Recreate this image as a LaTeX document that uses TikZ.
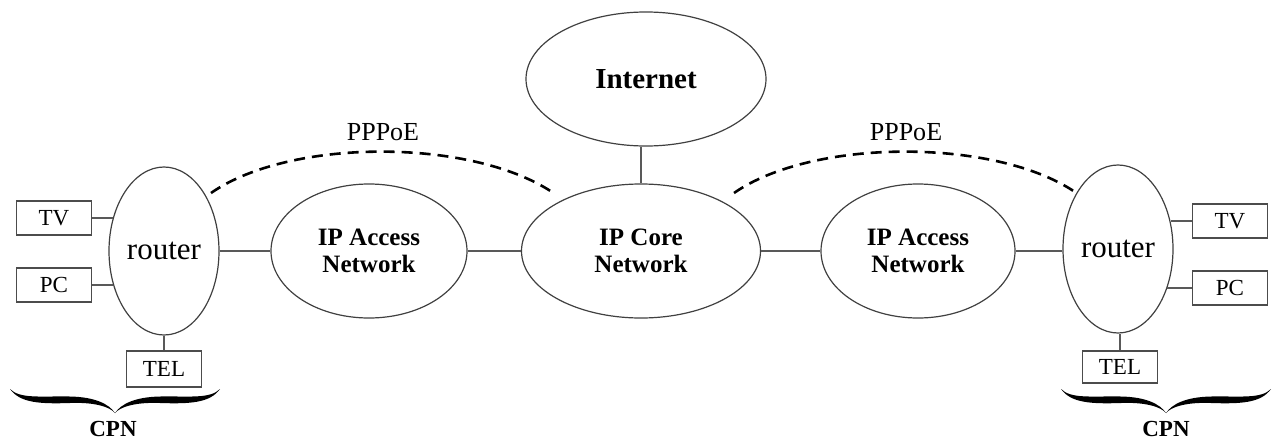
\documentclass[tikz,border=0pt]{standalone}
\usepackage{fontspec}
\setmainfont{Liberation Serif}
\usetikzlibrary{shapes.geometric}
% one half of a calligraphic curly brace; tip at the origin, y grows downwards
\newcommand\halfbrace{%
  \fill (0,0) .. controls (-5,-6) and (-20,-11) .. (-45,-10)
        .. controls (-75,-9) and (-95,-10) .. (-105,-24)
        .. controls (-95,-14) and (-75,-17) .. (-45,-16.5)
        .. controls (-20,-16) and (-6,-9) .. (0,0) -- cycle;}
\newcommand\cpnbrace[1]{%
  \begin{scope}[shift={#1}]
    \halfbrace
    \begin{scope}[xscale=-1]\halfbrace\end{scope}
  \end{scope}}
\begin{document}
\begin{tikzpicture}[x=1pt,y=-1pt,
  cloud/.style={ellipse,draw=black!75,line width=1.2pt,inner sep=0pt,align=center},
  netlabel/.style={font=\bfseries\fontsize{25}{26.5}\selectfont},
  rtr/.style={cloud,minimum width=110pt,minimum height=168pt,font=\fontsize{31}{33}\selectfont},
  dev/.style={rectangle,draw=black!70,line width=1.1pt,inner sep=0pt,
              minimum width=75pt,minimum height=34pt,font=\fontsize{23}{25}\selectfont},
  link/.style={draw=black!65,line width=1.2pt},
  session/.style={draw=black,line width=2.6pt,dash pattern=on 11pt off 7pt},
  grplabel/.style={font=\bfseries\fontsize{23}{25}\selectfont,inner sep=1pt}]
\useasboundingbox (0,0) rectangle (1276,439);

% network clouds
\node[cloud,minimum width=240pt,minimum height=134pt,
      font=\bfseries\fontsize{29}{31}\selectfont] (inet) at (646,79) {Internet};
\node[cloud,netlabel,minimum width=239pt,minimum height=134pt] (core) at (641,251) {IP Core\\Network};
\node[cloud,netlabel,minimum width=196pt,minimum height=134pt] (accl) at (369,251) {IP Access\\Network};
\node[cloud,netlabel,minimum width=194pt,minimum height=134pt] (accr) at (918,251) {IP Access\\Network};

% customer routers
\node[rtr] (rl) at (164,251) {router};
\node[rtr] (rr) at (1118,249) {router};

% customer devices
\node[dev] (tvl) at (54,218) {TV};
\node[dev] (pcl) at (54,285) {PC};
\node[dev,minimum height=36pt] (tell) at (164,369) {TEL};
\node[dev] (tvr) at (1230,221) {TV};
\node[dev] (pcr) at (1230,288) {PC};
\node[dev,minimum height=32pt] (telr) at (1120,367) {TEL};

% physical links
\draw[link] (core.north) -- (core.north |- inet.south);
\draw[link] (rl.east) -- (accl.west);
\draw[link] (accl.east) -- (core.west);
\draw[link] (core.east) -- (accr.west);
\draw[link] (accr.east) -- (accr.east -| rr.west);
\draw[link] (tvl.east) -- (tvl.east -| rl.147);
\draw[link] (pcl.east) -- (pcl.east -| rl.213);
\draw[link] (rl.south) -- (tell.north);
\draw[link] (tvr.west) -- (tvr.west -| rr.28);
\draw[link] (pcr.west) -- (pcr.west -| rr.321);
\draw[link] (telr.north) -- (telr.north |- rr.south);

% PPPoE sessions
\coordinate (sl1) at (211,193);
\coordinate (sl2) at (552,192);
\coordinate (sr1) at (734,193);
\coordinate (sr2) at (1075,192);
\draw[session] (sl1) .. controls (290,138) and (470,138) .. (sl2);
\draw[session] (sr1) .. controls (813,138) and (995,138) .. (sr2);
\node[font=\fontsize{26}{28}\selectfont] (pl) at (383,132) {PPPoE};
\node[font=\fontsize{26}{28}\selectfont] (pr) at (906,132) {PPPoE};

% customer premises network groups
\cpnbrace{(115,413)}
\cpnbrace{(1166,413)}
\node[grplabel] (cpnl) at (113,428.5) {CPN};
\node[grplabel] (cpnr) at (1166,428.5) {CPN};
\end{tikzpicture}
\end{document}
